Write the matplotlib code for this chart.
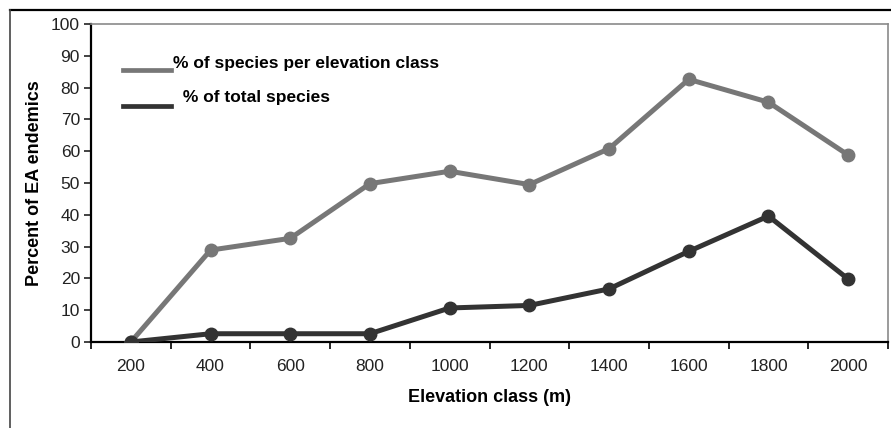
import numpy as np
import matplotlib.pyplot as plt
from matplotlib.lines import Line2D

plt.rcParams['font.family'] = ['Liberation Sans', 'DejaVu Sans']

# data
elevation = ['200', '400', '600', '800', '1000', '1200', '1400', '1600', '1800', '2000']
pct_per_class = [0, 28.9, 32.6, 49.8, 53.7, 49.5, 60.8, 82.6, 75.4, 58.8]
pct_total = [0, 2.6, 2.6, 2.6, 10.7, 11.5, 16.7, 28.5, 39.6, 19.8]
series_names = ['% of species per elevation class', ' % of total species']
series_colors = ['#777777', '#333333']

fig = plt.figure(figsize=(8.91, 4.28), dpi=100)
ax = fig.add_axes([91 / 891, 86 / 428, 797 / 891, 318 / 428])

x = np.arange(len(elevation))
for vals, col, z in zip([pct_per_class, pct_total], series_colors, [3, 4]):
    ax.plot(x, vals, color=col, lw=3.6, marker='o', ms=9, zorder=z)

ax.set_xlim(-0.5, len(elevation) - 0.5)
ax.set_ylim(0, 100)
ax.set_yticks(np.arange(0, 101, 10))
ax.set_xticks(x)
ax.set_xticklabels(elevation)
ax.set_xticks(np.arange(-0.5, len(elevation), 1), minor=True)
ax.tick_params(axis='x', which='major', length=0, pad=12, labelsize=12.5, colors='#222222')
ax.tick_params(axis='x', which='minor', length=5, width=1.2, direction='out')
ax.tick_params(axis='y', length=5, width=1.2, direction='out', labelsize=12.5, colors='#222222', pad=3)

for s in ['left', 'bottom']:
    ax.spines[s].set_linewidth(1.6)
    ax.spines[s].set_color('black')
for s in ['top', 'right']:
    ax.spines[s].set_linewidth(1.2)
    ax.spines[s].set_color('#8a8a8a')

ax.set_xlabel('Elevation class (m)', fontsize=13, fontweight='bold', labelpad=11)
ax.set_ylabel('Percent of EA endemics', fontsize=13, fontweight='bold', labelpad=6)

# legend drawn the way the original sits: line under the text centre
leg_rows = [(0.855, 0.877, 0.103), (0.742, 0.770, 0.109)]
for (ly, ty, tx), name, col in zip(leg_rows, series_names, series_colors):
    ax.plot([0.040, 0.100], [ly, ly], color=col, lw=3.4, transform=ax.transAxes, clip_on=False)
    ax.text(tx, ty, name, transform=ax.transAxes, fontsize=12.5, fontweight='bold',
            va='center', ha='left')

# outer frame
fig.add_artist(Line2D([10 / 891, 1], [1 - 10 / 428, 1 - 10 / 428], color='black', lw=1.6,
                      transform=fig.transFigure))
fig.add_artist(Line2D([10 / 891, 10 / 891], [0, 1 - 10 / 428], color='#444444', lw=1.2,
                      transform=fig.transFigure))

fig.savefig('out.png', dpi=100)
